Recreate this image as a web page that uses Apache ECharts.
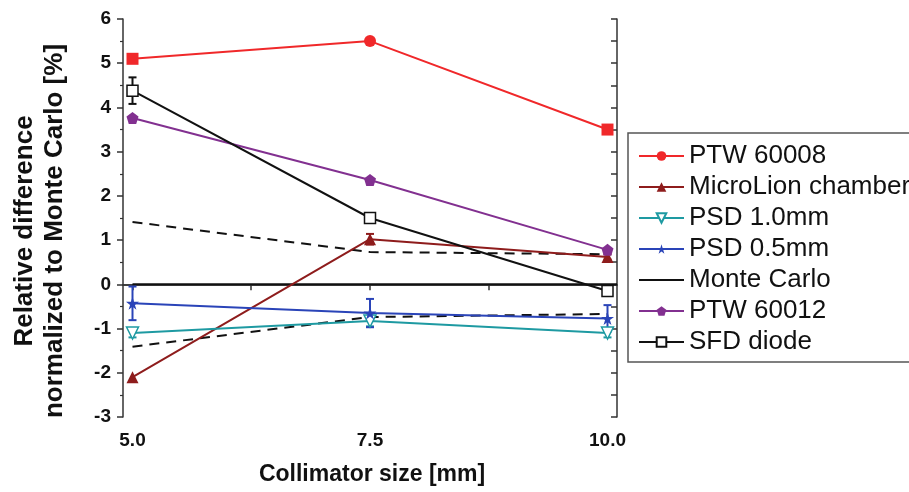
<!DOCTYPE html>
<html><head><meta charset="utf-8">
<script src="https://cdn.jsdelivr.net/npm/echarts@6/dist/echarts.min.js"></script>
<style>html,body{margin:0;padding:0;background:#fff}#c{width:909px;height:492px}</style>
</head><body><div id="c"></div>
<script>
// ---- data ----
const xCats = [5.0, 7.5, 10.0];
const xTickValues = [5.0, 6.25, 7.5, 8.75, 10.0];
const xLabelValues = [5.0, 7.5, 10.0];
const ptw60008 = [5.1, 5.5, 3.5];
const microLion = [-2.1, 1.02, 0.62];
const psd10 = [-1.1, -0.83, -1.1];
const psd05 = [-0.43, -0.65, -0.77];
const ptw60012 = [3.76, 2.36, 0.78];
const sfd = [4.38, 1.5, -0.15];
const mcX = [5.0, 10.1];
const mcY = [0, 0];
const bandUpper = [1.41, 0.73, 0.68];
const bandLower = [-1.41, -0.74, -0.67];
const microLionErr = [0, 0.12, 0.06];
const psd10Err = [0.1, 0.12, 0.1];
const psd05Err = [0.38, 0.32, 0.3];
const sfdErr = [0.3, 0.08, 0];
const seriesNames = ['PTW 60008','MicroLion chamber','PSD 1.0mm','PSD 0.5mm','Monte Carlo','PTW 60012','SFD diode'];

// ---- build ----
const pts = (ys) => xCats.map((x, i) => [x, ys[i]]);
const errPts = (ys, es) => xCats.map((x, i) => [x, ys[i] - es[i], ys[i] + es[i]]).filter((d, i) => es[i] > 0);
const STAR = 'path://M50,0 L61,35 L98,35 L68,57 L79,91 L50,70 L21,91 L32,57 L2,35 L39,35 Z';
const PENT = 'path://M50,0 L100,38 L81,100 L19,100 L0,38 Z';
const FONT = 'Liberation Sans, Arial, sans-serif';

function errSeries(name, data, color) {
  return {
    type: 'custom', name: name, data: data, z: 3,
    encode: { x: 0, y: [1, 2] },
    renderItem: function (params, api) {
      const x = api.value(0);
      const lo = api.coord([x, api.value(1)]);
      const hi = api.coord([x, api.value(2)]);
      const w = 4;
      const st = { stroke: color, lineWidth: 2 };
      return { type: 'group', children: [
        { type: 'line', shape: { x1: lo[0], y1: lo[1], x2: hi[0], y2: hi[1] }, style: st },
        { type: 'line', shape: { x1: lo[0] - w, y1: lo[1], x2: lo[0] + w, y2: lo[1] }, style: st },
        { type: 'line', shape: { x1: hi[0] - w, y1: hi[1], x2: hi[0] + w, y2: hi[1] }, style: st }
      ]};
    }
  };
}

const C = { red: '#f0282a', mic: '#8e1c1c', teal: '#1e9aa2', blue: '#2a44b8', black: '#111', purple: '#823090' };

function lineS(name, data, color, symbol, size, extra) {
  return Object.assign({
    type: 'line', name: name, data: data, symbol: symbol, symbolSize: size,
    lineStyle: { color: color, width: 2 },
    itemStyle: { color: color },
    z: 4, animation: false
  }, extra || {});
}

const axisLineStyle = { show: true, lineStyle: { color: '#333', width: 1.5 } };

const option = {
  backgroundColor: '#fff',
  animation: false,
  grid: { left: 123, right: 292, top: 19, bottom: 75 },
  xAxis: [
    { type: 'value', min: 4.9, max: 10.1, position: 'bottom',
      axisLine: axisLineStyle, splitLine: { show: false },
      axisTick: { show: true, inside: false, length: 6, lineStyle: { color: '#333', width: 1.5 }, customValues: xTickValues },
      axisLabel: { show: true, customValues: xLabelValues, formatter: v => Number(v).toFixed(1),
        color: '#111', fontFamily: FONT, fontWeight: 'bold', fontSize: 19, margin: 14 },
      name: 'Collimator size [mm]', nameLocation: 'middle', nameGap: 46,
      nameTextStyle: { color: '#111', fontFamily: FONT, fontWeight: 'bold', fontSize: 23, padding: [0, 0, 0, 4] }
    },
    { type: 'value', min: 4.9, max: 10.1, position: 'top',
      axisLine: axisLineStyle, splitLine: { show: false },
      axisTick: { show: true, inside: true, length: 6, lineStyle: { color: '#333', width: 1.5 }, customValues: xLabelValues },
      axisLabel: { show: false }
    }
  ],
  yAxis: [
    { type: 'value', min: -3, max: 6, interval: 1, position: 'left',
      axisLine: axisLineStyle, splitLine: { show: false },
      axisTick: { show: true, inside: false, length: 6, lineStyle: { color: '#333', width: 1.5 } },
      minorTick: { show: true, splitNumber: 2, length: 3, lineStyle: { color: '#333', width: 1.2 } },
      axisLabel: { color: '#111', fontFamily: FONT, fontWeight: 'bold', fontSize: 19, margin: 12 }
    },
    { type: 'value', min: -3, max: 6, interval: 1, position: 'right',
      axisLine: axisLineStyle, splitLine: { show: false },
      axisTick: { show: true, inside: true, length: 6, lineStyle: { color: '#333', width: 1.5 } },
      minorTick: { show: true, splitNumber: 2, length: 6, lineStyle: { color: '#333', width: 1.5 } },
      axisLabel: { show: false }
    }
  ],
  legend: {
    data: seriesNames.map(n => n === 'Monte Carlo' ? { name: n, itemStyle: { opacity: 0 } } : n),
    orient: 'vertical', left: 628, top: 133,
    padding: [10, 10, 7, 10], itemGap: 5, itemWidth: 45, itemHeight: 12,
    borderColor: '#555', borderWidth: 1.5, backgroundColor: '#fff',
    textStyle: { color: '#111', fontFamily: FONT, fontSize: 26, lineHeight: 26 },
    selectedMode: false
  },
  graphic: [
    { type: 'text', x: 40, y: 231, rotation: Math.PI / 2,
      style: { text: 'Relative difference\nnormalized to Monte Carlo [%]', textAlign: 'center', textVerticalAlign: 'middle',
        fill: '#111', font: 'bold 26px "Liberation Sans", Arial, sans-serif', lineHeight: 30 } }
  ],
  series: [
    lineS('MC band upper', pts(bandUpper), C.black, 'none', 0, { lineStyle: { color: C.black, width: 2, type: [10, 7] }, z: 2 }),
    lineS('MC band lower', pts(bandLower), C.black, 'none', 0, { lineStyle: { color: C.black, width: 2, type: [10, 7] }, z: 2 }),
    lineS('Monte Carlo', mcX.map((x, i) => [x, mcY[i]]), C.black, 'none', 0, { z: 2 }),
    lineS('PTW 60008', pts(ptw60008).map((d, i) => ({ value: d, symbol: i === 1 ? 'circle' : 'rect' })), C.red, 'circle', 12),
    lineS('MicroLion chamber', pts(microLion), C.mic, 'triangle', 12),
    lineS('PSD 1.0mm', pts(psd10), C.teal, 'triangle', 12, { symbolRotate: 180,
      itemStyle: { color: '#fff', borderColor: C.teal, borderWidth: 1.5 } }),
    lineS('PSD 0.5mm', pts(psd05), C.blue, STAR, 13),
    lineS('PTW 60012', pts(ptw60012), C.purple, PENT, 12),
    lineS('SFD diode', pts(sfd), C.black, 'rect', 11, { itemStyle: { color: '#fff', borderColor: C.black, borderWidth: 1.5 }, z: 5 }),
    errSeries('err mic', errPts(microLion, microLionErr), C.mic),
    errSeries('err psd10', errPts(psd10, psd10Err), C.teal),
    errSeries('err psd05', errPts(psd05, psd05Err), C.blue),
    errSeries('err sfd', errPts(sfd, sfdErr), C.black)
  ]
};

const chart = echarts.init(document.getElementById('c'), null, { renderer: 'canvas' });
chart.setOption(option);
</script></body></html>
